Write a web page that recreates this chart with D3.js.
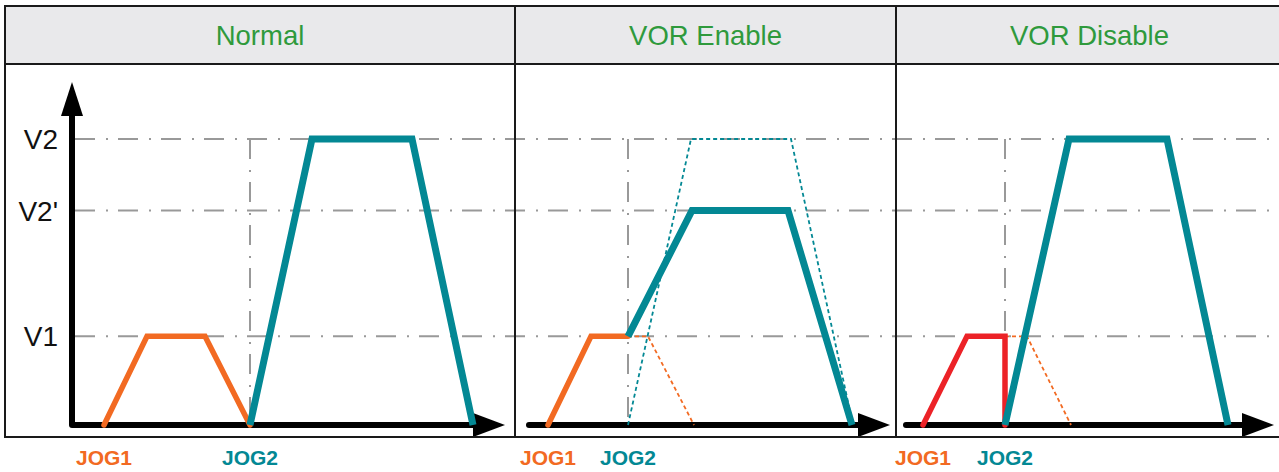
<!DOCTYPE html>
<html>
<head>
<meta charset="utf-8">
<script src="https://cdn.jsdelivr.net/npm/d3@7"></script>
<style>
  body { margin: 0; background: #fff; }
  svg { display: block; font-family: "Liberation Sans", Arial, sans-serif; }
</style>
</head>
<body>
<script>
// speed levels (relative units, V2 = 100)
var V1 = 31, V2p = 75, V2 = 100;
var levelNames = ["V1", "V2'", "V2"];
var levelValues = [V1, V2p, V2];

var panelTitles = ["Normal", "VOR Enable", "VOR Disable"];

// time, speed pairs; time counted from the JOG1 start of each panel
var normalJog1 = [[0, 0], [43, V1], [101, V1], [146, 0]];
var normalJog2 = [[146, 0], [208, V2], [308, V2], [369, 0]];

var enableJog1 = [[0, 0], [43, V1], [80, V1]];
var enableJog1Ghost = [[80, V1], [100, V1], [146, 0]];
var enableJog2 = [[80, V1], [144, V2p], [240, V2p], [304, 0]];
var enableJog2Ghost = [[80, 0], [143, V2], [243, V2], [305, 0]];

var disableJog1 = [[0, 0], [44, V1], [82, V1], [82, 0]];
var disableJog1Ghost = [[82, V1], [104, V1], [148, 0]];
var disableJog2 = [[82, 0], [146, V2], [244, V2], [305, 0]];

var jog2Times = [146, 80, 82];

(function () {
    var width = 1279, height = 472;
    var orange = "#f26a22", teal = "#038894", red = "#ec2227", green = "#2f9a3c";

    var svg = d3.select("body").append("svg")
        .attr("width", width)
        .attr("height", height);

    // panel layout
    var top = 6, headBottom = 64, bottom = 437;
    var panels = [
        { x0: 5, x1: 515, origin: 104, axisStart: 72, axisEnd: 505 },
        { x0: 515, x1: 896, origin: 548, axisStart: 529, axisEnd: 890 },
        { x0: 896, x1: 1281, origin: 923, axisStart: 906, axisEnd: 1274 }
    ];
    var series = [
        [{ d: normalJog1, c: orange, w: 5.5 }, { d: normalJog2, c: teal, w: 7 }],
        [{ d: enableJog1Ghost, c: orange, w: 1.8, dash: "4 3" },
         { d: enableJog2Ghost, c: teal, w: 1.8, dash: "4 3" },
         { d: enableJog1, c: orange, w: 5.5 }, { d: enableJog2, c: teal, w: 7 }],
        [{ d: disableJog1Ghost, c: orange, w: 1.8, dash: "4 3" },
         { d: disableJog1, c: red, w: 5.5 }, { d: disableJog2, c: teal, w: 7 }]
    ];

    var y = d3.scaleLinear().domain([0, V2]).range([425, 139]);
    var axisY = y(0);

    // header band
    svg.append("rect")
        .attr("x", 5).attr("y", top)
        .attr("width", width + 2 - 5).attr("height", headBottom - top)
        .attr("fill", "#e9e9eb");

    // grid lines across all panels
    svg.selectAll(".grid")
        .data(levelValues)
        .enter().append("line")
        .attr("class", "grid")
        .attr("x1", 75).attr("x2", width)
        .attr("y1", function (d) { return y(d); })
        .attr("y2", function (d) { return y(d); })
        .attr("stroke", "#999")
        .attr("stroke-width", 2)
        .attr("stroke-dasharray", "20 11 2 10");

    // level labels
    svg.selectAll(".lvl")
        .data(levelValues)
        .enter().append("text")
        .attr("x", 58)
        .attr("y", function (d) { return y(d) + 10; })
        .attr("text-anchor", "end")
        .attr("font-size", 28)
        .attr("fill", "#111")
        .text(function (d, i) { return levelNames[i]; });

    var line = d3.line();

    panels.forEach(function (p, i) {
        var x = d3.scaleLinear().domain([0, 400]).range([p.origin, p.origin + 400]);

        // title
        svg.append("text")
            .attr("x", (p.x0 + Math.min(p.x1, width)) / 2 + (i == 2 ? 2 : 0))
            .attr("y", 45)
            .attr("text-anchor", "middle")
            .attr("font-size", 27.5)
            .attr("fill", green)
            .text(panelTitles[i]);

        // JOG2 marker line
        svg.append("line")
            .attr("x1", x(jog2Times[i])).attr("x2", x(jog2Times[i]))
            .attr("y1", y(V2)).attr("y2", axisY)
            .attr("stroke", "#999")
            .attr("stroke-width", 2)
            .attr("stroke-dasharray", "20 11 2 10");

        // time axis with arrow
        svg.append("line")
            .attr("x1", p.axisStart).attr("x2", p.axisEnd - 28)
            .attr("y1", axisY).attr("y2", axisY)
            .attr("stroke", "#000")
            .attr("stroke-width", 6)
            .attr("stroke-linecap", "round");
        svg.append("path")
            .attr("d", "M" + (p.axisEnd - 32) + "," + (axisY - 12) +
                       "L" + p.axisEnd + "," + axisY +
                       "L" + (p.axisEnd - 32) + "," + (axisY + 12) + "Z")
            .attr("fill", "#000");

        // speed profiles
        series[i].forEach(function (s) {
            svg.append("path")
                .attr("d", line(s.d.map(function (pt) { return [x(pt[0]), y(pt[1])]; })))
                .attr("fill", "none")
                .attr("stroke", s.c)
                .attr("stroke-width", s.w)
                .attr("stroke-linejoin", "miter")
                .attr("stroke-linecap", s.w < 7 && !s.dash ? "round" : "butt")
                .attr("stroke-dasharray", s.dash || null);
        });

        // JOG labels
        svg.append("text")
            .attr("x", x(0)).attr("y", 465)
            .attr("text-anchor", "middle")
            .attr("font-size", 21).attr("font-weight", "bold")
            .attr("fill", orange)
            .text("JOG1");
        svg.append("text")
            .attr("x", x(jog2Times[i])).attr("y", 465)
            .attr("text-anchor", "middle")
            .attr("font-size", 21).attr("font-weight", "bold")
            .attr("fill", teal)
            .text("JOG2");
    });

    // speed axis (first panel only)
    svg.append("line")
        .attr("x1", 72).attr("x2", 72)
        .attr("y1", axisY).attr("y2", 112)
        .attr("stroke", "#000")
        .attr("stroke-width", 6);
    svg.append("path")
        .attr("d", "M61,116L72,82L83,116Z")
        .attr("fill", "#000");

    // frame and dividers
    svg.append("rect")
        .attr("x", 5).attr("y", top)
        .attr("width", width + 2 - 5).attr("height", bottom - top)
        .attr("fill", "none")
        .attr("stroke", "#1a1a1a")
        .attr("stroke-width", 2);
    svg.append("line")
        .attr("x1", 5).attr("x2", width)
        .attr("y1", headBottom).attr("y2", headBottom)
        .attr("stroke", "#1a1a1a").attr("stroke-width", 2);
    svg.selectAll(".divider")
        .data(panels.slice(1))
        .enter().append("line")
        .attr("x1", function (d) { return d.x0; })
        .attr("x2", function (d) { return d.x0; })
        .attr("y1", top).attr("y2", bottom)
        .attr("stroke", "#1a1a1a")
        .attr("stroke-width", 2);
})();
</script>
</body>
</html>
